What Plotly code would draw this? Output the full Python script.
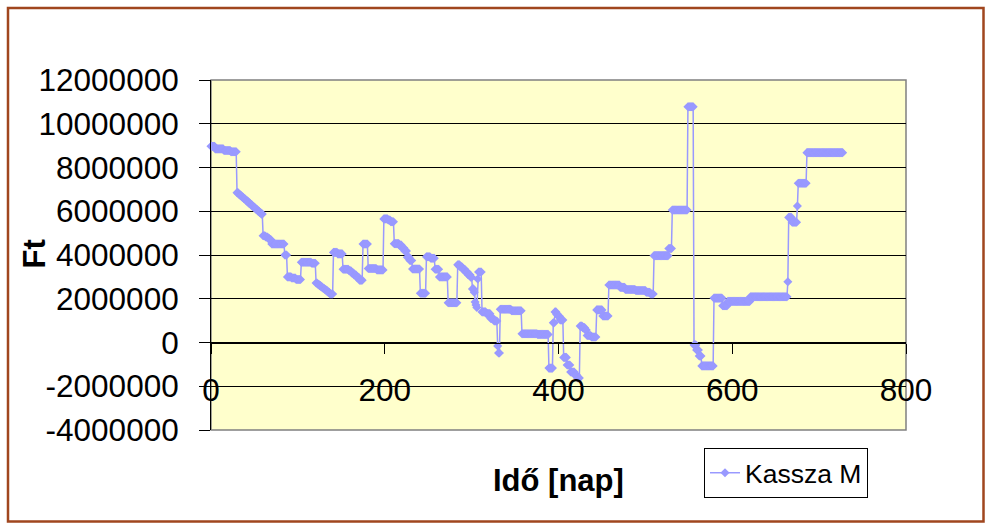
import numpy as np
import plotly.graph_objects as go

# Daily cash balance ("Kassza M"), stored as runs: each run holds its value
# (million Ft) from the day after the previous run's last day up to run_end_day.
run_end_day = [
    4, 14, 22, 29, 31, 33, 35, 37, 39, 41, 43, 45, 47, 49, 51, 53, 55, 57, 59,
    62, 65, 67, 69, 84, 87, 92, 97, 103, 115, 120, 122, 124, 126, 128, 130, 132,
    134, 136, 140, 145, 151, 158, 161, 164, 167, 170, 174, 180, 190, 198, 203,
    206, 210, 216, 219, 222, 225, 228, 231, 240, 247, 252, 257, 262, 272, 283,
    286, 289, 292, 295, 298, 300, 302, 303, 304, 305, 306, 307, 311, 316, 321,
    325, 329, 330, 332, 345, 357, 375, 388, 393, 395, 397, 399, 401, 405, 409,
    413, 418, 421, 424, 427, 430, 432, 437, 443, 450, 457, 470, 476, 488, 500,
    505, 509, 526, 530, 548, 555, 558, 561, 564, 578, 588, 594, 620, 663, 664,
    668, 674, 675, 685, 727,
]
run_value_mft = [
    8.97, 8.85, 8.78, 8.72, 6.85, 6.78, 6.71, 6.64, 6.57, 6.50, 6.43, 6.36,
    6.29, 6.22, 6.15, 6.08, 6.01, 5.94, 5.87,
    4.88, 4.82, 4.75, 4.70, 4.50, 4.00, 3.00, 2.95, 2.88, 3.67, 3.62, 2.72,
    2.66, 2.60, 2.54, 2.48, 2.42,
    2.36, 2.30, 2.22, 4.12, 4.05, 3.35, 3.28, 3.18, 3.08, 2.98, 2.85, 4.50,
    3.38, 3.32, 5.65,
    5.60, 5.52, 4.52, 4.45, 4.32, 4.18, 3.90, 3.75, 3.36, 2.25, 3.92, 3.85,
    3.35, 3.00, 1.82,
    3.55, 3.45, 3.35, 3.22, 3.10, 2.98, 2.45, 2.30, 1.85, 1.72, 1.60, 2.90,
    3.22, 1.40, 1.32,
    1.10, 0.98, -0.16, -0.48, 1.52, 1.45, 0.40, 0.37, -1.17, 0.90, 1.40, 1.28,
    1.20, 1.03, -0.68,
    -1.03, -1.35, -1.50, -1.62, 0.75, 0.68, 0.57, 0.32, 0.25, 1.49, 1.21, 2.63,
    2.52, 2.42, 2.38,
    2.30, 2.22, 3.97, 4.30, 6.06, 10.78, -0.11, -0.34, -0.62, -1.07, 2.03, 1.68,
    1.88, 2.09, 2.78,
    5.72, 5.50, 6.24, 7.28, 8.68,
]

x_tick_vals = [0, 200, 400, 600, 800]
y_tick_vals = [-4000000, -2000000, 0, 2000000, 4000000, 6000000, 8000000,
               10000000, 12000000]
y_tick_text = ["-4000000", "-2000000", "0", "2000000", "4000000", "6000000",
               "8000000", "10000000", "12000000"]

series_name = "Kassza M"
x_title = "Idő [nap]"
y_title = "Ft"

# expand the runs to one value per day
run_lengths = np.diff([-1] + run_end_day)
days = np.arange(run_end_day[-1] + 1)
balance_ft = np.repeat(np.array(run_value_mft) * 1e6, run_lengths)

line_color = "#9999FF"
font_family = "Liberation Sans, Arial, sans-serif"

fig = go.Figure()
fig.add_trace(go.Scatter(
    x=days, y=balance_ft, mode="lines+markers", name=series_name,
    line=dict(color=line_color, width=1.5),
    marker=dict(symbol="diamond", size=7, color=line_color,
                line=dict(width=0)),
    cliponaxis=False,
))

# plot-area frame
fig.add_shape(type="rect", xref="x domain", yref="y domain",
              x0=0, x1=1, y0=0, y1=1,
              line=dict(color="#808080", width=1.5), layer="below")
# outer chart border
W, H = 986, 525
L, R, T, B = 211, 80, 80, 95
pw, ph = W - L - R, H - T - B


def px_x(p):
    return (p - L) / pw


def px_y(p):
    return (H - B - p) / ph


fig.add_shape(type="rect", xref="paper", yref="paper",
              x0=px_x(8), x1=px_x(983.5), y0=px_y(521.5), y1=px_y(8),
              line=dict(color="#A0461E", width=2.5))

fig.add_annotation(text=f"<b>{x_title}</b>", xref="paper", yref="paper",
                   x=0.5, y=px_y(480), xanchor="center", yanchor="middle",
                   showarrow=False,
                   font=dict(size=31, color="black", family=font_family))
fig.add_annotation(text=f"<b>{y_title}</b>", xref="paper", yref="paper",
                   x=px_x(33.5), y=px_y(254), xanchor="center",
                   yanchor="middle", textangle=-90, showarrow=False,
                   font=dict(size=31, color="black", family=font_family))

fig.update_layout(
    width=W, height=H,
    margin=dict(l=L, r=R, t=T, b=B, pad=0),
    paper_bgcolor="white",
    plot_bgcolor="#FFFFCC",
    font=dict(family=font_family, color="black"),
    showlegend=True,
    legend=dict(x=px_x(704), y=px_y(448), xanchor="left", yanchor="top",
                bgcolor="white", bordercolor="black", borderwidth=1,
                font=dict(size=26.5, family=font_family), itemwidth=30),
    xaxis=dict(range=[0, 800], tickvals=x_tick_vals, showgrid=False,
               zeroline=False, showline=True, linecolor="black", linewidth=1,
               anchor="free", position=0.25,
               ticks="outside", ticklen=10, tickcolor="black",
               ticklabelstandoff=10,
               tickfont=dict(size=31.5, family=font_family)),
    yaxis=dict(range=[-4000000, 12000000], tickvals=y_tick_vals,
               ticktext=y_tick_text, showgrid=True, gridcolor="black",
               gridwidth=1, zeroline=False, showline=True, linecolor="black",
               linewidth=1, ticks="outside", ticklen=11, tickcolor="black",
               ticklabelstandoff=14,
               tickfont=dict(size=31.5, family=font_family)),
)

fig.write_html("out.html")
